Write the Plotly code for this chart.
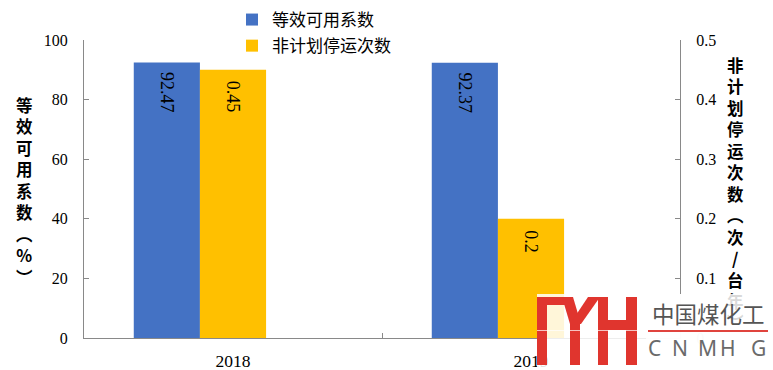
import plotly.graph_objects as go

# ---------------- data ----------------
years = ["2018", "2019"]
eaf_values = [92.47, 92.37]          # 等效可用系数 (%)
outage_values = [0.45, 0.2]          # 非计划停运次数 (次/台年)
eaf_name = "等效可用系数"
outage_name = "非计划停运次数"
left_title_chars = ["等", "效", "可", "用", "系", "数", "︵", "%", "︶"]
right_title_chars = ["非", "计", "划", "停", "运", "次", "数", "︵", "次", "/", "台", "年", "︶"]

# ---------------- style ----------------
BLUE = "#4472C4"
ORANGE = "#FFC000"
AXIS_GREY = "#898989"
SERIF = "Liberation Serif, Times New Roman, serif"
CJK = "Noto Sans CJK SC, Noto Sans, sans-serif"

W, H = 773, 370
L, R, T, B = 84, 680, 40, 338  # plot area in pixels
BAR_W = 0.222
BLUE_OFF = -0.333
ORANGE_OFF = -0.111


def px(x):
    return (x - L) / (R - L)


def py(y):
    return (B - y) / (B - T)


fig = go.Figure()
fig.add_trace(go.Bar(
    x=years, y=eaf_values, name=eaf_name, legendgroup="a",
    marker=dict(color=BLUE, line=dict(width=0)),
    offset=BLUE_OFF, width=BAR_W, yaxis="y",
))
fig.add_trace(go.Bar(
    x=years, y=outage_values, name=outage_name, legendgroup="b",
    marker=dict(color=ORANGE, line=dict(width=0)),
    offset=ORANGE_OFF, width=BAR_W, yaxis="y2",
))

axis_common = dict(
    showline=True, linecolor=AXIS_GREY, linewidth=1,
    ticks="inside", ticklen=5, tickcolor=AXIS_GREY,
    showgrid=False, zeroline=False, automargin=False,
)
y_tickfont = dict(family=SERIF, size=16, color="black")

fig.update_layout(
    width=W, height=H,
    margin=dict(l=L, r=W - R, t=T, b=H - B, autoexpand=False),
    paper_bgcolor="white", plot_bgcolor="white",
    barmode="overlay",
    showlegend=True,
    legend=dict(
        x=px(232), y=py(2), xanchor="left", yanchor="top",
        font=dict(family=CJK, size=17, color="black"),
        tracegroupgap=1, bgcolor="rgba(0,0,0,0)",
    ),
    xaxis=dict(
        type="category", range=[-0.5, 1.5], tickson="boundaries",
        ticklabelstandoff=7, tickfont=dict(family=SERIF, size=17.5, color="black"),
        **axis_common,
    ),
    yaxis=dict(range=[0, 100], dtick=20, ticklabelstandoff=12,
               tickfont=y_tickfont, **axis_common),
    yaxis2=dict(range=[0, 0.5], dtick=0.1, overlaying="y", side="right",
                ticklabelstandoff=12, tickfont=y_tickfont, **axis_common),
)

annotations = []
# value labels, rotated, just below the top of each bar
for i, v in enumerate(eaf_values):
    annotations.append(dict(
        x=i + BLUE_OFF + BAR_W / 2, y=v, xref="x", yref="y",
        text=f"{v:.2f}", textangle=90, showarrow=False,
        xanchor="center", yanchor="top", yshift=-8,
        font=dict(family=SERIF, size=18, color="black"),
    ))
for i, v in enumerate(outage_values):
    annotations.append(dict(
        x=i + ORANGE_OFF + BAR_W / 2, y=v, xref="x", yref="y2",
        text=f"{v:g}", textangle=90, showarrow=False,
        xanchor="center", yanchor="top", yshift=-9,
        font=dict(family=SERIF, size=18, color="black"),
    ))

# stacked axis titles
annotations.append(dict(
    x=px(24), y=py(191), xref="paper", yref="paper",
    text="<br>".join(left_title_chars),
    showarrow=False, xanchor="center", yanchor="middle",
    font=dict(family=CJK, size=16.5, color="black", weight="bold"),
))
annotations.append(dict(
    x=px(735), y=py(193), xref="paper", yref="paper",
    text="<br>".join(right_title_chars),
    showarrow=False, xanchor="center", yanchor="middle",
    font=dict(family=CJK, size=16.5, color="black", weight="bold"),
))

# ---------------- watermark ----------------
shapes = []
shapes.append(dict(type="rect", xref="paper", yref="paper", layer="above",
                   x0=px(537), x1=px(773), y0=py(294), y1=py(370),
                   fillcolor="rgba(255,255,255,0.85)", line=dict(width=0)))
RED = "#E0352E"


def rect(x0, y0, x1, y1):
    return f"M{px(x0)},{py(y0)} L{px(x1)},{py(y0)} L{px(x1)},{py(y1)} L{px(x0)},{py(y1)} Z"


def poly(pts):
    return "M" + " L".join(f"{px(a)},{py(b)}" for a, b in pts) + " Z"


logo_paths = [
    rect(537, 297, 547, 365),            # M left leg
    rect(537, 297, 566, 305),            # M top bar
    poly([(562, 297), (573, 297), (581, 324), (570, 324)]),   # V left arm
    poly([(588, 297), (600, 297), (581, 324), (570, 324)]),   # V right arm
    rect(570, 320, 580, 365),            # stem
    rect(598, 297, 608, 365),            # H left
    rect(626, 297, 637, 365),            # H right
    rect(598, 320, 637, 330),            # H bar
]
for p in logo_paths:
    shapes.append(dict(type="path", path=p, xref="paper", yref="paper",
                       layer="above", fillcolor=RED, line=dict(width=0)))
shapes.append(dict(type="line", xref="paper", yref="paper", layer="above",
                   x0=px(537), x1=px(637), y0=py(330.5), y1=py(330.5),
                   line=dict(color="rgba(255,255,255,0.7)", width=1)))

annotations.append(dict(
    x=px(646), y=py(294), xref="paper", yref="paper", xanchor="left", yanchor="top",
    text=" ", width=127, height=72, bgcolor="rgba(255,255,255,0.85)",
    showarrow=False, borderpad=0, borderwidth=0,
))
annotations.append(dict(
    x=px(708), y=py(313), xref="paper", yref="paper", xanchor="center", yanchor="middle",
    text="中国煤化工", showarrow=False,
    font=dict(family=CJK, size=22.5, color="#555555"),
))
annotations.append(dict(
    x=px(648), y=py(329.5), xref="paper", yref="paper", xanchor="left", yanchor="top",
    text=" ", width=120, height=2, bgcolor="#E0443E",
    showarrow=False, borderpad=0, borderwidth=0, font=dict(size=1),
))
for ch, cx in zip("CNMHG", [654, 680, 707, 728, 758]):
    annotations.append(dict(
        x=px(cx), y=py(348), xref="paper", yref="paper", xanchor="center", yanchor="middle",
        text=ch, showarrow=False,
        font=dict(family="Noto Sans, sans-serif", size=21, color="#6a6a6a"),
    ))

fig.update_layout(annotations=annotations, shapes=shapes)
fig.write_html("out.html")
